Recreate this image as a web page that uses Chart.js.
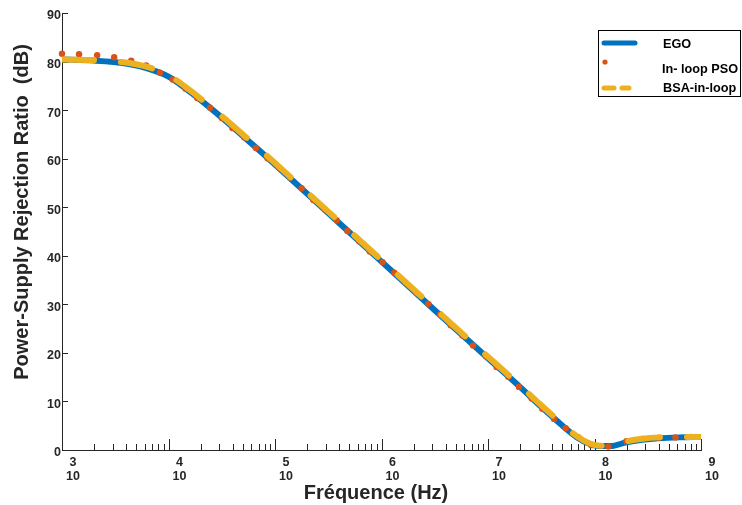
<!DOCTYPE html>
<html lang="fr">
<head>
<meta charset="UTF-8">
<title>PSRR</title>
<script src="https://cdn.jsdelivr.net/npm/chart.js"></script>
<style>
    html, body { margin: 0; padding: 0; background: #fff; }
</style>
</head>
<body>
<canvas id="psrr" width="742" height="505"></canvas>

<script>
    const egoExp = [3.0, 3.3, 3.6, 3.8, 4.0, 4.2, 4.4, 4.6, 4.8, 5.0, 5.5, 6.0, 6.5, 7.0, 7.3, 7.5, 7.7, 7.83, 7.95, 8.05, 8.15, 8.3, 8.45, 8.6, 8.8, 9.0];
    const egoDb  = [80.4, 80.2, 79.6, 78.6, 76.9, 73.8, 70.3, 66.6, 62.7, 58.8, 48.8, 38.8, 28.8, 18.9, 13.0, 8.9, 5.0, 2.7, 1.3, 0.8, 0.8, 1.6, 2.1, 2.4, 2.6, 2.7];

    const bsaExp = [3.0, 3.3, 3.6, 3.8, 4.0, 4.2, 4.4, 4.6, 4.8, 5.0, 5.5, 6.0, 6.5, 7.0, 7.3, 7.5, 7.7, 7.83, 7.95, 8.05, 8.15, 8.3, 8.45, 8.6, 8.8, 9.0];
    const bsaDb  = [80.4, 80.3, 79.8, 78.9, 77.2, 74.1, 70.6, 66.9, 63.0, 59.1, 49.1, 39.1, 29.1, 19.2, 13.3, 9.2, 5.3, 2.9, 1.4, 0.9, 1.0, 1.8, 2.3, 2.6, 2.7, 2.7];

    const psoExp = [3.00, 3.16, 3.33, 3.49, 3.65, 3.79, 3.92, 4.04, 4.16, 4.27, 4.39, 4.50, 4.60, 4.71, 4.82, 4.93, 5.04, 5.14, 5.25, 5.36,
                    5.47, 5.58, 5.68, 5.79, 5.89, 6.01, 6.12, 6.23, 6.33, 6.44, 6.55, 6.65, 6.76, 6.86, 6.98, 7.08, 7.19, 7.29, 7.41, 7.51,
                    7.62, 7.73, 7.85, 7.97, 8.13, 8.30, 8.45, 8.60, 8.76, 8.91];
    const psoDb  = [81.6, 81.5, 81.3, 80.9, 80.2, 79.2, 77.7, 76.3, 74.4, 72.5, 70.5, 68.4, 66.3, 64.4, 62.2, 60.1, 58.1, 56.1, 53.9, 51.5,
                    49.5, 47.3, 45.1, 43.0, 40.9, 38.7, 36.5, 34.3, 32.3, 30.1, 27.9, 25.7, 23.6, 21.5, 19.3, 17.1, 15.1, 13.0, 10.6, 8.5,
                    6.4, 4.5, 2.6, 1.0, 0.7, 1.8, 2.3, 2.5, 2.6, 2.7];

    const decades = [3, 4, 5, 6, 7, 8, 9];
    const yTicks = [0, 10, 20, 30, 40, 50, 60, 70, 80, 90];

    const police = "'Liberation Sans', Arial, sans-serif";
    const encre = '#262626';

    function points(exps, vals) {
        return exps.map((e, i) => ({ x: Math.pow(10, e), y: vals[i] }));
    }

    // petits traits vers l'intérieur + titres + légende
    const decor = {
        id: 'decor',
        beforeDatasetsDraw(chart) {
            const ctx = chart.ctx, x = chart.scales.x, y = chart.scales.y;
            const bas = chart.chartArea.bottom, gauche = chart.chartArea.left;
            ctx.save();
            ctx.strokeStyle = encre;
            ctx.lineWidth = 1;
            ctx.beginPath();
            decades.forEach(d => {
                if (d > 3) {
                    const px = Math.round(x.getPixelForValue(Math.pow(10, d))) + 0.5;
                    ctx.moveTo(px, bas); ctx.lineTo(px, bas - 11);
                }
                if (d < 9) {
                    for (let k = 2; k <= 9; k++) {
                        const px = Math.round(x.getPixelForValue(k * Math.pow(10, d))) + 0.5;
                        ctx.moveTo(px, bas); ctx.lineTo(px, bas - 6);
                    }
                }
            });
            yTicks.forEach(v => {
                const py = Math.round(y.getPixelForValue(v)) + 0.5;
                ctx.moveTo(gauche, py); ctx.lineTo(gauche + 6, py);
            });
            ctx.stroke();
            ctx.restore();
        },
        afterDraw(chart) {
            const ctx = chart.ctx;
            ctx.save();
            ctx.fillStyle = encre;
            ctx.font = 'bold 20px ' + police;
            ctx.textAlign = 'center';
            ctx.textBaseline = 'middle';
            ctx.fillText('Fréquence (Hz)', 376, 493);
            ctx.translate(22, 212);
            ctx.rotate(-Math.PI / 2);
            ctx.fillText('Power-Supply Rejection Ratio  (dB)', 0, 0);
            ctx.restore();

            // légende
            const ds = chart.data.datasets;
            ctx.save();
            ctx.fillStyle = '#fff';
            ctx.fillRect(598, 30, 143, 66);
            ctx.strokeStyle = '#000';
            ctx.lineWidth = 1;
            ctx.strokeRect(598.5, 30.5, 142, 66);

            ctx.lineCap = 'round';
            ctx.lineWidth = 5;
            ctx.strokeStyle = ds[0].borderColor;
            ctx.beginPath(); ctx.moveTo(604, 43); ctx.lineTo(635, 43); ctx.stroke();

            ctx.fillStyle = ds[1].backgroundColor;
            ctx.beginPath(); ctx.arc(605, 62, 2.6, 0, Math.PI * 2); ctx.fill();

            ctx.strokeStyle = ds[2].borderColor;
            ctx.beginPath(); ctx.moveTo(604, 88); ctx.lineTo(614, 88); ctx.moveTo(622, 88); ctx.lineTo(629, 88); ctx.stroke();

            ctx.fillStyle = '#000';
            ctx.font = 'bold 12.7px ' + police;
            ctx.textAlign = 'left';
            ctx.textBaseline = 'middle';
            ctx.fillText(ds[0].label, 663, 44);
            ctx.fillText(ds[1].label, 662, 69);
            ctx.fillText(ds[2].label, 663, 88);
            ctx.restore();
        }
    };

    new Chart(document.getElementById('psrr').getContext('2d'), {
        type: 'line',
        data: {
            datasets: [
                {
                    label: 'EGO',
                    data: points(egoExp, egoDb),
                    borderColor: '#0072BD',
                    borderWidth: 6,
                    pointRadius: 0,
                    cubicInterpolationMode: 'monotone',
                    borderCapStyle: 'round',
                    order: 3
                },
                {
                    label: 'In- loop PSO',
                    data: points(psoExp, psoDb),
                    showLine: false,
                    pointRadius: 3.2,
                    pointBorderWidth: 0,
                    backgroundColor: '#D95319',
                    borderColor: '#D95319',
                    clip: false,
                    order: 2
                },
                {
                    label: 'BSA-in-loop',
                    data: points(bsaExp, bsaDb),
                    borderColor: '#EDB120',
                    borderWidth: 6,
                    borderDash: [32, 27],
                    borderCapStyle: 'round',
                    pointRadius: 0,
                    cubicInterpolationMode: 'monotone',
                    order: 1
                }
            ]
        },
        options: {
            responsive: false,
            devicePixelRatio: 1,
            animation: false,
            layout: { padding: { left: 0, right: 41, top: 13, bottom: 0 } },
            plugins: {
                legend: { display: false },
                tooltip: { enabled: false }
            },
            scales: {
                x: {
                    type: 'logarithmic',
                    min: 1e3,
                    max: 1e9,
                    afterBuildTicks: axis => { axis.ticks = decades.map(d => ({ value: Math.pow(10, d) })); },
                    afterFit: scale => { scale.height = 55; },
                    grid: { display: false, drawTicks: false },
                    border: { display: true, color: encre, width: 1 },
                    ticks: {
                        autoSkip: false,
                        maxRotation: 0,
                        padding: 6,
                        labelOffset: 11,
                        color: encre,
                        font: { family: police, size: 12.5, weight: 'bold', lineHeight: 1.1 },
                        callback: v => [String(Math.round(Math.log10(v))), '10']
                    }
                },
                y: {
                    min: 0,
                    max: 90,
                    afterBuildTicks: axis => { axis.ticks = yTicks.map(v => ({ value: v })); },
                    afterFit: scale => { scale.width = 62; },
                    grid: { display: false, drawTicks: false },
                    border: { display: true, color: encre, width: 1 },
                    ticks: {
                        padding: 1,
                        labelOffset: 3,
                        color: encre,
                        font: { family: police, size: 12.5, weight: 'bold' }
                    }
                }
            }
        },
        plugins: [decor]
    });
</script>
</body>
</html>
